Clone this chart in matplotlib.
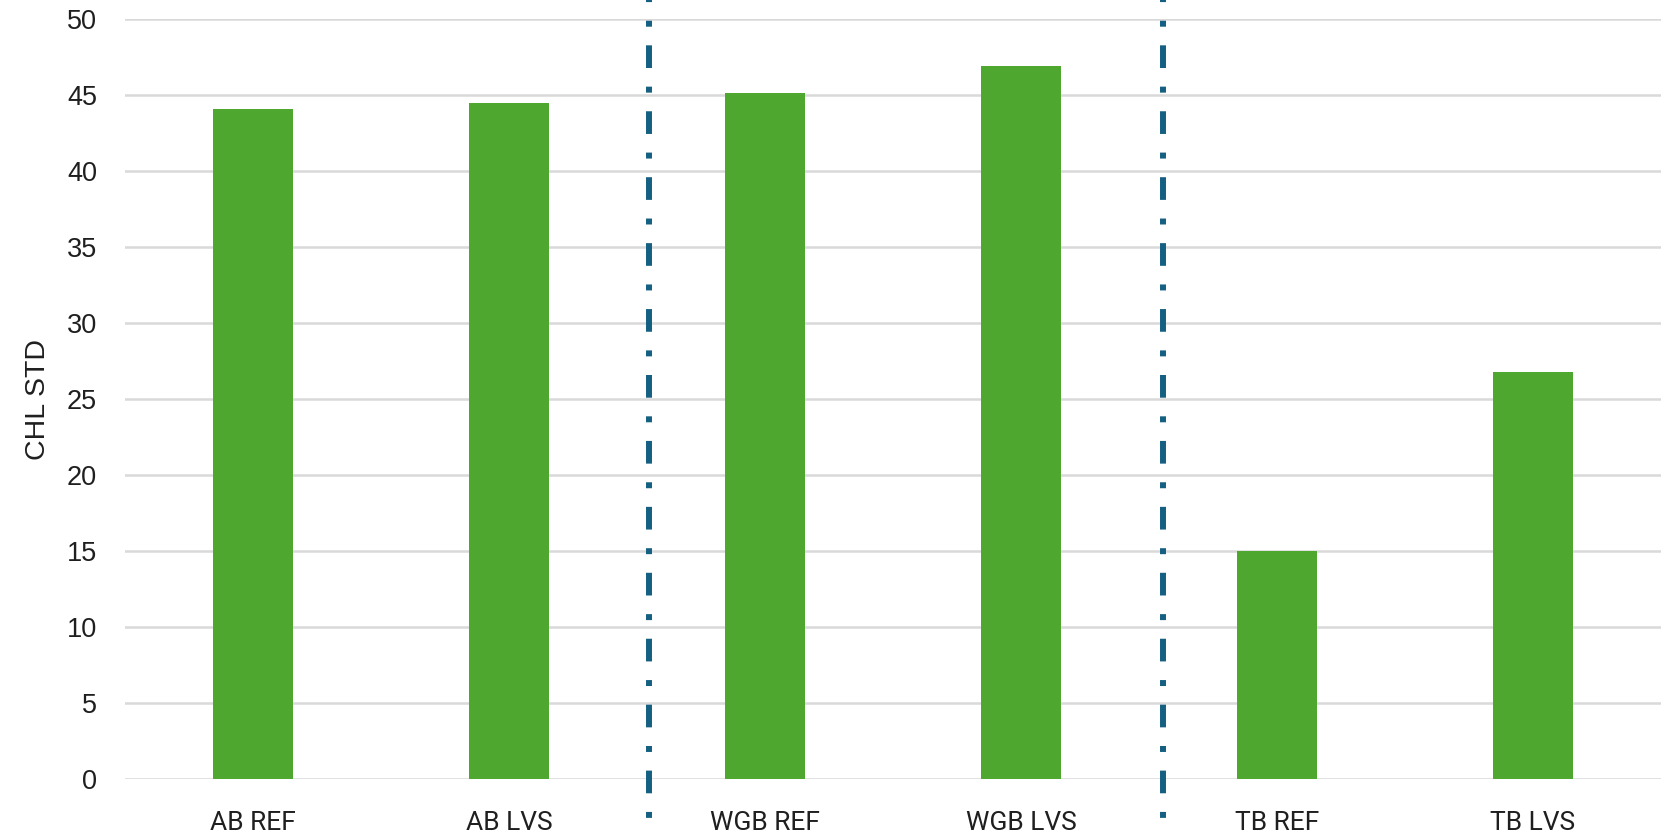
import numpy as np
import matplotlib.pyplot as plt

# data
categories = ['AB REF', 'AB LVS', 'WGB REF', 'WGB LVS', 'TB REF', 'TB LVS']
chl_std = [44.1, 44.5, 45.15, 46.9, 15.0, 26.8]
separators = [1.546, 3.555]   # group dividers between sites
y_ticks = [0, 5, 10, 15, 20, 25, 30, 35, 40, 45, 50]

bar_color = '#4EA72E'
sep_color = '#156082'
grid_color = '#D9D9D9'
text_color = '#1F1F1F'

plt.rcParams['font.family'] = ['Liberation Sans', 'DejaVu Sans']

fig = plt.figure(figsize=(16.75, 8.33), dpi=100)
ax = fig.add_axes([0.0746, 0.0648, 0.9170, 0.9124])

x = np.arange(len(categories))
ax.bar(x, chl_std, width=0.313, color=bar_color, zorder=2)

ax.set_xlim(-0.5, len(categories) - 0.5)
ax.set_ylim(0, 50)
ax.set_yticks(y_ticks)
ax.set_xticks(x)
ax.set_xticklabels(categories, family=['Roboto', 'Liberation Sans'],
                   fontsize=19, color=text_color)
ax.tick_params(axis='y', length=0, pad=20, labelsize=19.5, labelcolor=text_color)
ax.tick_params(axis='x', length=0, pad=23)

ax.grid(axis='y', color=grid_color, linewidth=1.8)
ax.set_axisbelow(True)
for s in ax.spines.values():
    s.set_visible(False)

ax.set_ylabel('CHL STD', fontsize=20.5, color=text_color)
ax.yaxis.set_label_coords(-0.048, 0.5)

# dash-dot dividers running past the plot area
lw = 4.3
for sx in separators:
    ax.plot([sx, sx], [51.25, -2.75], color=sep_color, linewidth=lw,
            linestyle=(3.45, (3.8, 3.12, 1.0, 3.12)), clip_on=False, zorder=3)

fig.savefig('out.png', dpi=100)
